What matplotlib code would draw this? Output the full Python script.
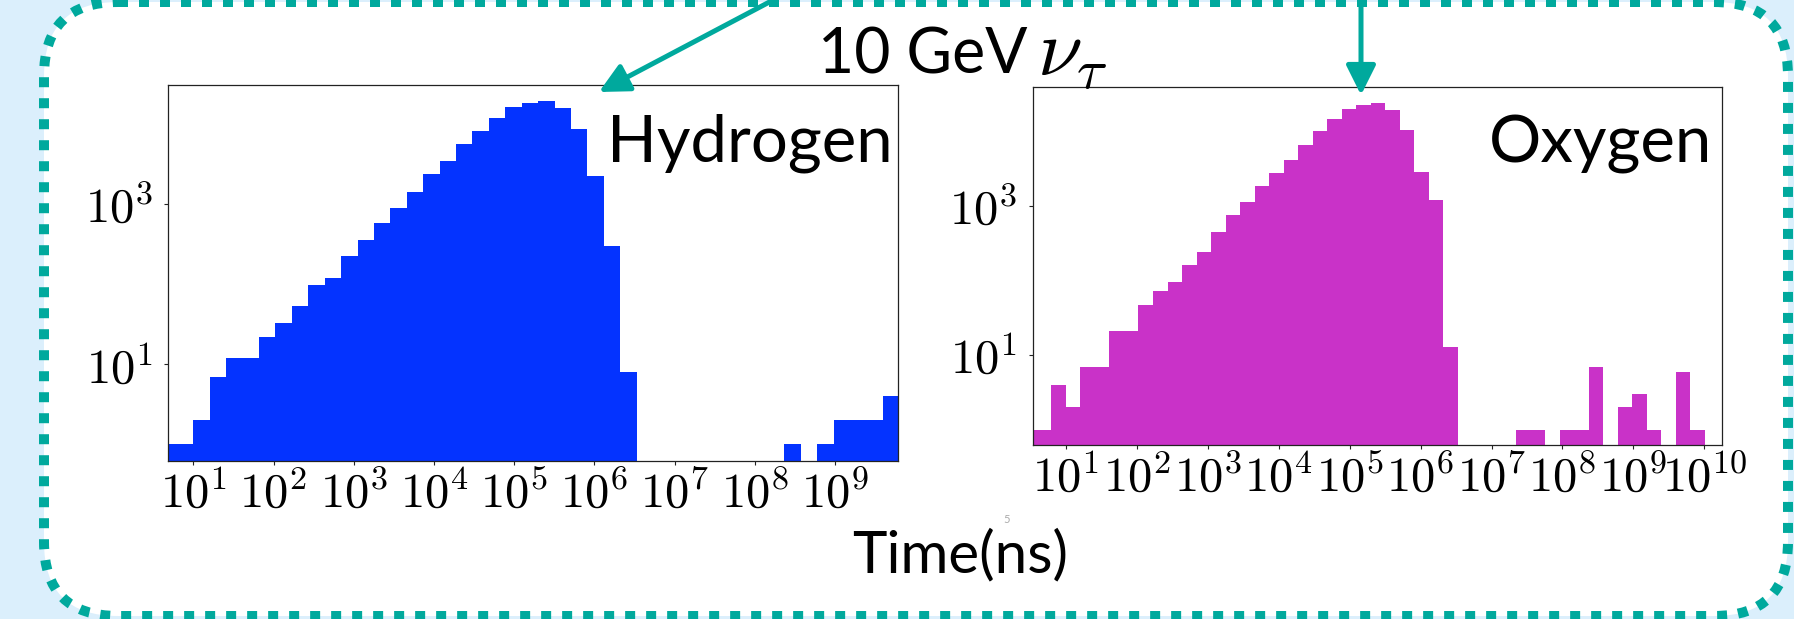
import matplotlib.pyplot as plt
import numpy as np
from matplotlib.patches import FancyBboxPatch

plt.rcParams['mathtext.fontset'] = 'cm'
plt.rcParams['font.family'] = ['Lato', 'DejaVu Sans']

# log-spaced bins: lower edge of bin k is 10**(1 + 0.2047*k), k = -3 .. 45
bin_k = np.arange(-3, 47)
bin_dex = 0.2047

# counts per bin (k = -3 .. 45)
hydrogen_counts = [0, 1, 1, 2, 7, 12, 12, 22, 33, 54, 98, 118, 222, 358, 583, 883,
                   1422, 2383, 3467, 5600, 8050, 11700, 16330, 18330, 19050, 15890,
                   8530, 2213, 299, 8,
                   0, 0, 0, 0, 0, 0, 0, 0, 0,
                   1, 0, 1, 2, 2, 2, 4, 0, 0, 0]
oxygen_counts = [1, 1, 4, 2, 7, 7, 21, 21, 47, 72, 96, 160, 244, 448, 757, 1122,
                 1837, 2773, 4180, 6650, 10070, 14860, 20040, 22500, 24370, 19450,
                 10470, 2884, 1205, 13,
                 0, 0, 0, 0,
                 1, 1, 0, 1, 1, 7, 0, 2, 3, 1, 0, 6, 1, 0, 0]

hydrogen_xticks = [1, 2, 3, 4, 5, 6, 7, 8, 9]
oxygen_xticks = [1, 2, 3, 4, 5, 6, 7, 8, 9, 10]
yticks = [1, 3]

title = "10 GeV"
title_math = r"$\nu_\tau$"
xlabel = "Time(ns)"

teal = '#00A99D'
blue = '#0433FF'
magenta = '#C932C8'
W, H = 1794, 619

edges = 10 ** (1 + bin_dex * bin_k)
centers = np.sqrt(edges[:-1] * edges[1:])

fig = plt.figure(figsize=(W / 100, H / 100), dpi=100)
fig.patch.set_facecolor('#DBEFFC')

# background: white rounded box with dotted teal border
bg = fig.add_axes([0, 0, 1, 1], zorder=0)
bg.set_xlim(0, W)
bg.set_ylim(H, 0)
bg.axis('off')
box = FancyBboxPatch((44, 2), 1744, 614, boxstyle='round,pad=0,rounding_size=74',
                     fc='white', ec=teal, lw=7.2, linestyle=(0, (1, 1.1)))
bg.add_patch(box)


def draw_hist(rect, counts, color, xlim, ylim, xexps):
    ax = fig.add_axes(rect, zorder=2)
    ax.hist(centers, bins=edges, weights=counts, histtype='stepfilled',
            color=color, lw=0, log=True)
    ax.set_xscale('log')
    ax.set_xlim(10 ** xlim[0], 10 ** xlim[1])
    ax.set_ylim(10 ** ylim[0], 10 ** ylim[1])
    ax.set_xticks([10.0 ** e for e in xexps])
    ax.set_xticklabels([r'$10^{%d}$' % e for e in xexps])
    ax.set_yticks([10.0 ** e for e in yticks])
    ax.set_yticklabels([r'$10^{%d}$' % e for e in yticks])
    ax.minorticks_off()
    ax.tick_params(axis='both', direction='out', length=3, width=0.8,
                   labelsize=35, color='#222222')
    ax.tick_params(axis='x', pad=3)
    ax.tick_params(axis='y', pad=8)
    for s in ax.spines.values():
        s.set_linewidth(0.9)
        s.set_color('#222222')
    return ax


ax1 = draw_hist([168.3 / W, 1 - 461 / H, 730 / W, 376 / H], hydrogen_counts, blue,
                (0.688, 9.789), (-0.206, 4.484), hydrogen_xticks)
ax2 = draw_hist([1032.6 / W, 1 - 445.3 / H, 689.1 / W, 358 / H], oxygen_counts, magenta,
                (0.531, 10.245), (-0.212, 4.593), oxygen_xticks)

# foreground: labels and arrows
fg = fig.add_axes([0, 0, 1, 1], zorder=5)
fg.set_xlim(0, W)
fg.set_ylim(H, 0)
fg.axis('off')
fg.patch.set_alpha(0)

fg.text(750, 161.7, "Hydrogen", fontsize=47, ha='center', va='baseline')
fg.text(1600, 162, "Oxygen", fontsize=47, ha='center', va='baseline')
fg.text(1028, 74, title, fontsize=45, ha='right', va='baseline')
fg.text(1037, 75, title_math, fontsize=58, ha='left', va='baseline')
fg.text(960, 572, xlabel, fontsize=42, ha='center', va='baseline')
fg.text(1007, 523, "5", fontsize=8, color='#aaaaaa', ha='center', va='baseline')

arrow = dict(arrowstyle='-|>', color=teal, lw=3.6, mutation_scale=45,
             shrinkA=0, shrinkB=0)
fg.annotate('', xy=(599, 92), xytext=(777, -2), arrowprops=arrow,
            annotation_clip=False)
fg.annotate('', xy=(1361, 95), xytext=(1361, -2), arrowprops=arrow,
            annotation_clip=False)

fig.savefig('out.png', dpi=100, facecolor=fig.get_facecolor())
